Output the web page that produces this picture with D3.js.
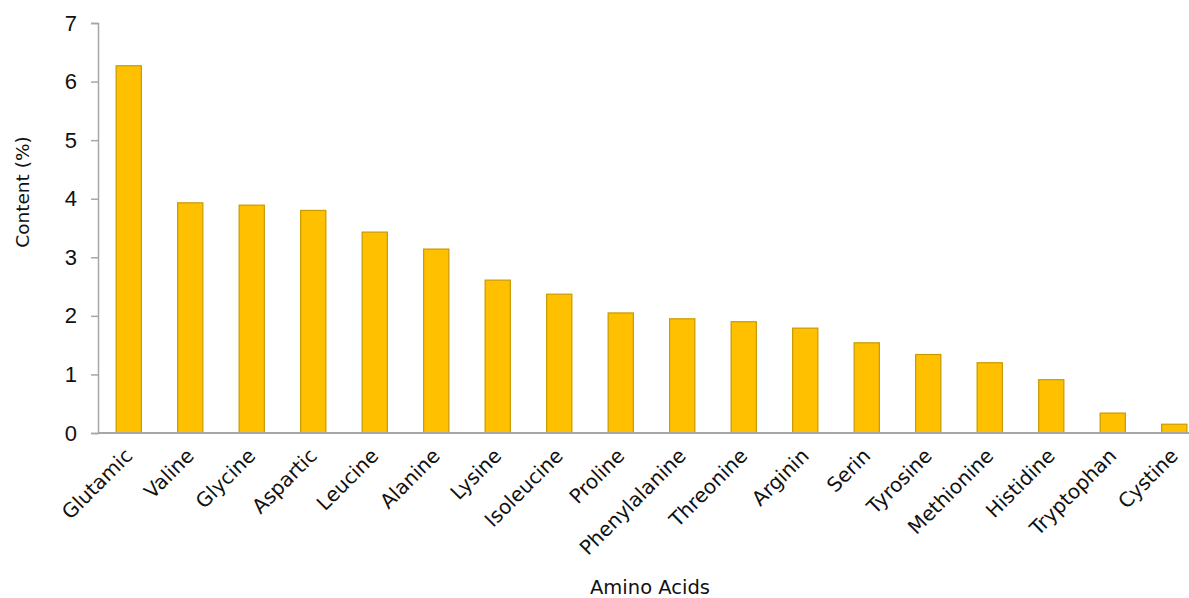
<!DOCTYPE html>
<html>
<head>
<meta charset="utf-8">
<script src="https://cdn.jsdelivr.net/npm/d3@7"></script>
<style>
  body { margin: 0; background: #fff; }
  svg { display: block; }
</style>
</head>
<body>
<div id="chart"></div>
<script>
const aminoAcids = ["Glutamic", "Valine", "Glycine", "Aspartic", "Leucine", "Alanine", "Lysine",
  "Isoleucine", "Proline", "Phenylalanine", "Threonine", "Arginin", "Serin", "Tyrosine",
  "Methionine", "Histidine", "Tryptophan", "Cystine"]
const contents = [6.27, 3.93, 3.89, 3.80, 3.43, 3.14, 2.61, 2.37, 2.05, 1.95, 1.90, 1.79,
  1.54, 1.34, 1.20, 0.91, 0.34, 0.15]
const yTicks = [0, 1, 2, 3, 4, 5, 6, 7]

let W = 1189, H = 598
let margin = { top: 23, left: 98, bottom: 165 },
  height = H - margin.top - margin.bottom

let svg = d3.select("#chart").append("svg")
  .attr("width", W)
  .attr("height", H)

// band step ~61.5px, the last band runs past the right edge like in the original
let x = d3.scaleBand()
  .domain(aminoAcids)
  .range([margin.left, margin.left + 18 * 61.5])
  .paddingInner(0.59)
  .paddingOuter(0.295)

let y = d3.scaleLinear()
  .domain([0, 7])
  .range([margin.top + height, margin.top])

// bars
svg.selectAll(".bar")
  .data(aminoAcids)
  .enter()
  .append("rect")
  .attr("class", "bar")
  .attr("x", d => x(d))
  .attr("width", x.bandwidth())
  .attr("y", (d, i) => y(contents[i]))
  .attr("height", (d, i) => y(0) - y(contents[i]))
  .attr("fill", "#ffc000")
  .attr("stroke", "#c99a00")
  .attr("stroke-width", 1.2)

// y axis
let yaxis = svg.append("g")
  .attr("transform", "translate(" + margin.left + ",0)")
  .call(d3.axisLeft(y).tickValues(yTicks).tickSize(7).tickPadding(14).tickFormat(d3.format("d")))
yaxis.selectAll("path, line").attr("stroke", "#a6a6a6").attr("stroke-width", 1.5)
yaxis.selectAll("text")
  .attr("font-family", "'Liberation Sans', Arial, sans-serif")
  .attr("font-size", "22px")
  .attr("fill", "#111")

// x axis line (no tick marks)
svg.append("line")
  .attr("x1", margin.left)
  .attr("x2", W)
  .attr("y1", y(0))
  .attr("y2", y(0))
  .attr("stroke", "#a6a6a6")
  .attr("stroke-width", 2)

// category labels
svg.selectAll(".xlab")
  .data(aminoAcids)
  .enter()
  .append("text")
  .attr("class", "xlab")
  .attr("transform", d => "translate(" + (x(d) + x.bandwidth() / 2 + 5) + "," + (y(0) + 24) + ") rotate(-45)")
  .attr("text-anchor", "end")
  .attr("font-family", "'DejaVu Sans', Verdana, sans-serif")
  .attr("font-size", "20px")
  .attr("fill", "#111")
  .text(d => d)

// axis titles
svg.append("text")
  .attr("transform", "translate(29," + (margin.top + height / 2 - 36) + ") rotate(-90)")
  .attr("text-anchor", "middle")
  .attr("font-family", "'DejaVu Sans', Verdana, sans-serif")
  .attr("font-size", "18.5px")
  .attr("fill", "#111")
  .text("Content (%)")

svg.append("text")
  .attr("x", 650)
  .attr("y", 594)
  .attr("text-anchor", "middle")
  .attr("font-family", "'DejaVu Sans', Verdana, sans-serif")
  .attr("font-size", "19.5px")
  .attr("fill", "#111")
  .text("Amino Acids")
</script>
</body>
</html>
